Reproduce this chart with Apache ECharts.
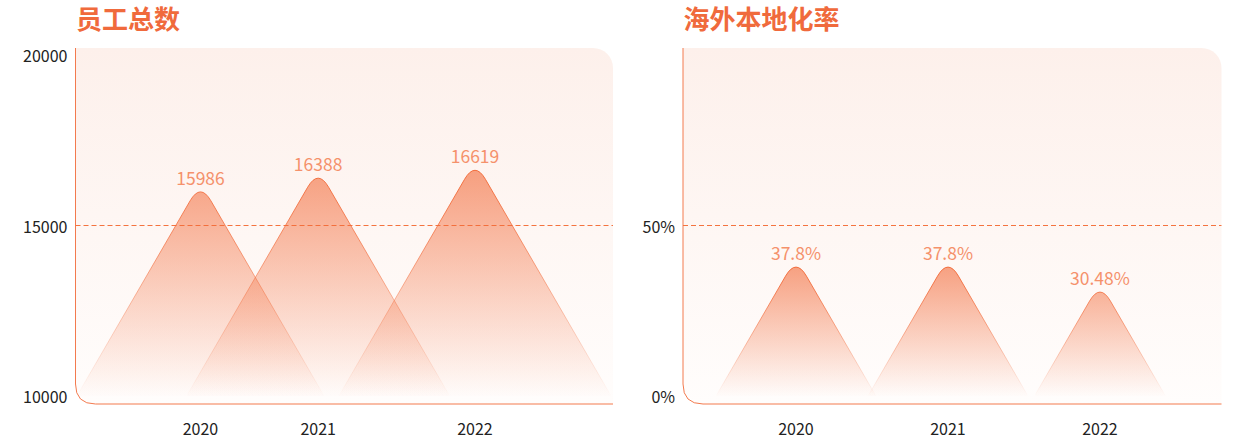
<!DOCTYPE html>
<html>
<head>
<meta charset="utf-8">
<script src="https://cdn.jsdelivr.net/npm/echarts@6/dist/echarts.min.js"></script>
<style>
html,body{margin:0;padding:0;background:#fff;}
#c{width:1236px;height:442px;}
</style>
</head>
<body>
<div id="c"></div>
<script>
// ---- data ----
const categories = ['2020', '2021', '2022'];
const staffValues = [15986, 16388, 16619];
const localRateValues = [37.8, 37.8, 30.48];
const staffAxis = { min: 10000, max: 20000, interval: 5000, ref: 15000 };
const rateAxis = { min: 0, max: 100, interval: 50, ref: 50 };
const titles = ['员工总数', '海外本地化率'];

// ---- layout (pixels) ----
const FONT = '"Noto Sans CJK SC", "Noto Sans", sans-serif';
const ORANGE = '#f26b3a';
const W = 1236;
const panels = [
  { x0: 75.5, x1: 613, y0: 48, y1: 404 },
  { x0: 683, x1: 1221.5, y0: 48, y1: 404 }
];
const gridTop = 55, gridBottom = 46;
// left chart: categories placed on a slot grid (uneven spacing in the original)
const leftSlots = [0, 3, 7];
const leftSlotCount = 8;
const leftMarkGrid = { left: 200.5, right: W - 475 };
const rightMarkGrid = { left: 796, right: W - 1100 };

const leftAxisData = Array.from({ length: leftSlotCount }, () => '');
leftSlots.forEach((s, i) => { leftAxisData[s] = categories[i]; });

function peakRenderer(minVal, maxVal, fmt) {
  return function (params, api) {
    const x = api.value(0), v = api.value(1);
    const top = api.coord([x, v]);
    const base = api.coord([x, minVal]);
    const gTop = api.coord([x, maxVal])[1];
    const cx = top[0];
    const e = 9, s = 0.58, d = 2 * e;
    const vy = top[1] - e;
    const hw = s * (base[1] - vy);
    const p1 = [cx - s * d, vy + d], p2 = [cx + s * d, vy + d];
    const path = 'M' + (cx - hw) + ',' + base[1] +
      ' L' + p1[0] + ',' + p1[1] +
      ' Q' + cx + ',' + vy + ' ' + p2[0] + ',' + p2[1] +
      ' L' + (cx + hw) + ',' + base[1] + ' Z';
    return {
      type: 'group',
      children: [
        {
          type: 'path',
          shape: { pathData: path },
          style: {
            fill: {
              type: 'linear', x: 0, y: gTop, x2: 0, y2: base[1], global: true,
              colorStops: [
                { offset: 0, color: 'rgba(242,107,58,0.62)' },
                { offset: 1, color: 'rgba(242,107,58,0.01)' }
              ]
            },
            stroke: {
              type: 'linear', x: 0, y: gTop, x2: 0, y2: base[1], global: true,
              colorStops: [
                { offset: 0, color: 'rgba(242,107,58,1)' },
                { offset: 1, color: 'rgba(242,107,58,0)' }
              ]
            },
            lineWidth: 1
          }
        },
        {
          type: 'text',
          style: {
            text: fmt(v), x: cx, y: top[1] - 6,
            align: 'center', verticalAlign: 'bottom',
            fill: '#f5916b', fontSize: 17.5, fontFamily: FONT
          }
        }
      ]
    };
  };
}

const chart = echarts.init(document.getElementById('c'), null, { renderer: 'svg' });

const yLabel = { color: '#222', fontSize: 16, fontFamily: FONT, margin: 8, formatter: v => String(v) };
const xLabel = { color: '#222', fontSize: 16, fontFamily: FONT, margin: 24, interval: 0 };

const graphics = [];
const borderStyle = { fill: 'none', stroke: '#f37a4e', lineWidth: 1 };
const R = 20;
panels.forEach((p, i) => {
  graphics.push({
    type: 'rect', z: -10,
    shape: { x: p.x0, y: p.y0, width: p.x1 - p.x0, height: p.y1 - p.y0, r: [0, R, 0, R] },
    style: {
      fill: {
        type: 'linear', x: 0, y: 0, x2: 0, y2: 1,
        colorStops: [{ offset: 0, color: '#fdf0eb' }, { offset: 1, color: '#fffdfc' }]
      }
    }
  });
  graphics.push({
    type: 'line', z: -9,
    shape: { x1: p.x0, y1: p.y0, x2: p.x0, y2: p.y1 - R },
    style: borderStyle
  });
  graphics.push({
    type: 'bezierCurve', z: -9,
    shape: { x1: p.x0, y1: p.y1 - R, x2: p.x0 + R, y2: p.y1, cpx1: p.x0, cpy1: p.y1 },
    style: borderStyle
  });
  graphics.push({
    type: 'line', z: -9,
    shape: { x1: p.x0 + R, y1: p.y1, x2: p.x1, y2: p.y1 },
    style: borderStyle
  });
  graphics.push({
    type: 'text', left: p.x0 + 0.5, top: 4,
    style: { text: titles[i], fill: '#f06a3c', fontSize: 26, fontWeight: 'bold', fontFamily: FONT }
  });
});

function refLineSeries(xIdx, value) {
  return {
    type: 'line', xAxisIndex: xIdx, yAxisIndex: xIdx, silent: true,
    symbol: 'none', z: 1,
    lineStyle: { color: '#f4733f', type: [5, 3], width: 1 },
    emphasis: { disabled: true },
    data: [[0, value], [1, value]]
  };
}

chart.setOption({
  animation: false,
  color: [ORANGE],
  graphic: graphics,
  grid: [
    { left: panels[0].x0, right: W - panels[0].x1, top: gridTop, bottom: gridBottom },
    { left: leftMarkGrid.left, right: leftMarkGrid.right, top: gridTop, bottom: gridBottom },
    { left: panels[1].x0, right: W - panels[1].x1, top: gridTop, bottom: gridBottom },
    { left: rightMarkGrid.left, right: rightMarkGrid.right, top: gridTop, bottom: gridBottom }
  ],
  xAxis: [
    { gridIndex: 0, type: 'value', min: 0, max: 1, show: false },
    { gridIndex: 1, type: 'category', data: leftAxisData, boundaryGap: false,
      axisLine: { show: false }, axisTick: { show: false }, axisLabel: xLabel, splitLine: { show: false } },
    { gridIndex: 2, type: 'value', min: 0, max: 1, show: false },
    { gridIndex: 3, type: 'category', data: categories, boundaryGap: false,
      axisLine: { show: false }, axisTick: { show: false }, axisLabel: xLabel, splitLine: { show: false } }
  ],
  yAxis: [
    { gridIndex: 0, type: 'value', min: staffAxis.min, max: staffAxis.max, interval: staffAxis.interval,
      axisLine: { show: false }, axisTick: { show: false }, splitLine: { show: false }, axisLabel: yLabel },
    { gridIndex: 1, type: 'value', min: staffAxis.min, max: staffAxis.max, show: false },
    { gridIndex: 2, type: 'value', min: rateAxis.min, max: rateAxis.max, interval: rateAxis.interval,
      axisLine: { show: false }, axisTick: { show: false }, splitLine: { show: false },
      axisLabel: Object.assign({}, yLabel, { formatter: '{value}%', showMaxLabel: false }) },
    { gridIndex: 3, type: 'value', min: rateAxis.min, max: rateAxis.max, show: false }
  ],
  series: [
    refLineSeries(0, staffAxis.ref),
    refLineSeries(2, rateAxis.ref),
    { type: 'custom', xAxisIndex: 1, yAxisIndex: 1, clip: false,
      data: staffValues.map((v, i) => [leftSlots[i], v]),
      renderItem: peakRenderer(staffAxis.min, Math.max.apply(null, staffValues), v => String(v)) },
    { type: 'custom', xAxisIndex: 3, yAxisIndex: 3, clip: false,
      data: localRateValues.map((v, i) => [i, v]),
      renderItem: peakRenderer(rateAxis.min, Math.max.apply(null, localRateValues), v => v + '%') }
  ]
});
</script>
</body>
</html>
